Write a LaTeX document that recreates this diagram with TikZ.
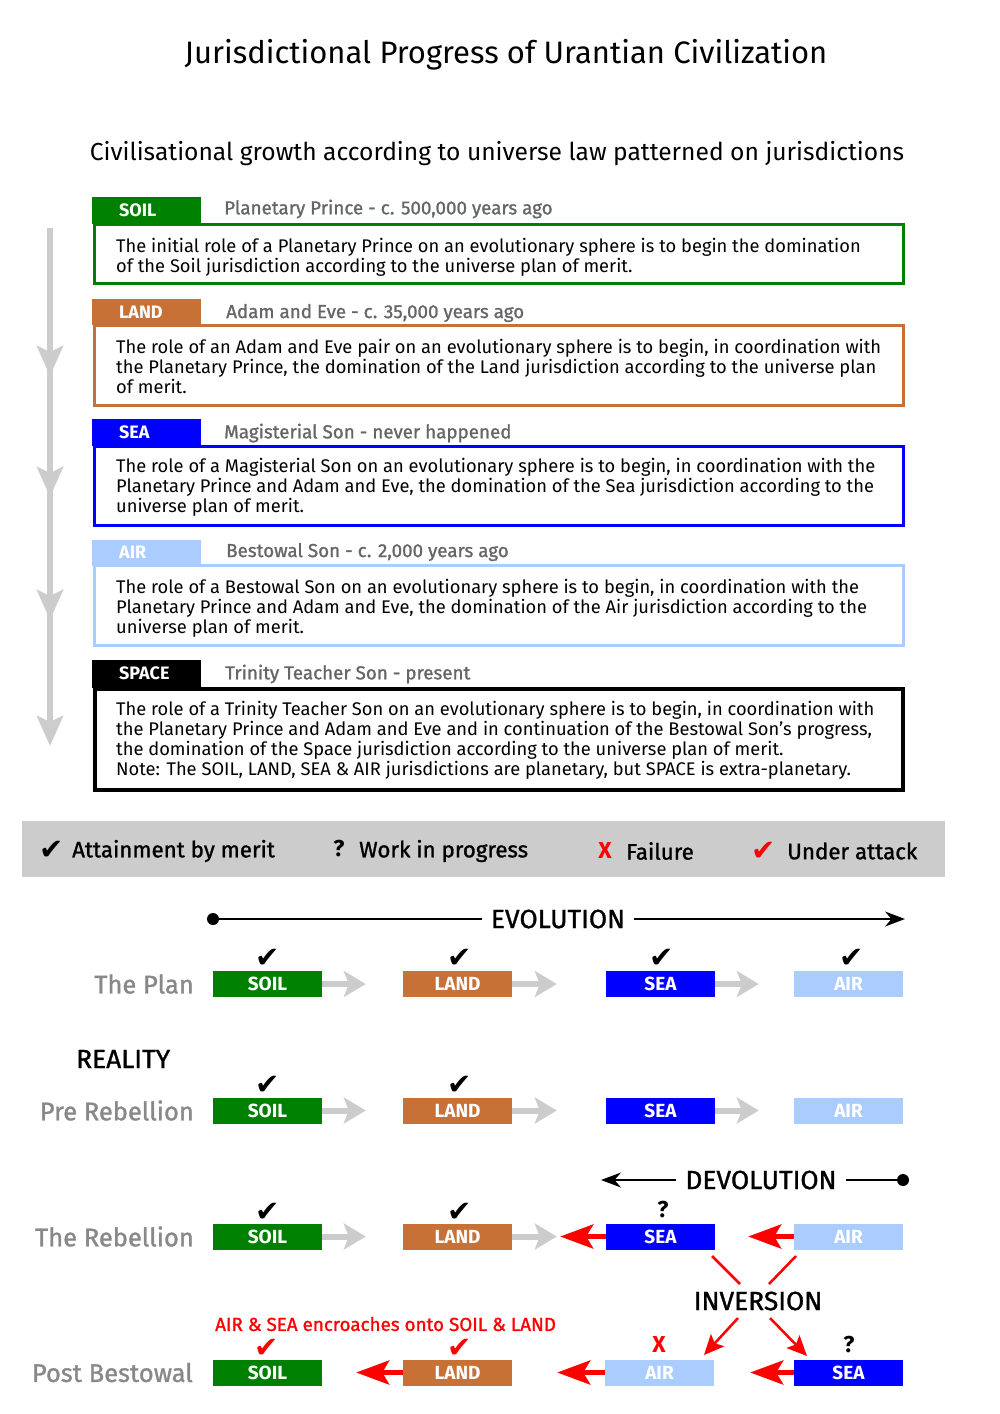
\documentclass[tikz,border=0pt]{standalone}
\usepackage{fontspec}
\setmainfont{Fira Sans}
\newfontfamily\semib{Fira Sans}[FakeBold=1.2]
\newfontfamily\symfont{DejaVu Sans}
\usetikzlibrary{arrows.meta}
\definecolor{soilc}{HTML}{008000}
\definecolor{landc}{HTML}{C87137}
\definecolor{seac}{HTML}{0000FF}
\definecolor{airc}{HTML}{AACCFF}
\definecolor{lgray}{HTML}{CCCCCC}
\definecolor{hdrgray}{HTML}{666666}
\definecolor{lblgray}{HTML}{888888}
\newcommand{\fsz}[1]{\fontsize{#1}{#1}\selectfont}
\begin{document}
\begin{tikzpicture}[x=1pt,y=-1pt,
  tabbox/.style={fill=#1, draw=none, minimum width=109pt, minimum height=27pt, inner sep=0pt, anchor=north west},
  tabtext/.style={text=white, font=\bfseries\fsz{18}, anchor=west, inner sep=0pt},
  hdr/.style={text=hdrgray, font=\semib\fsz{18.8}, anchor=west, inner sep=0pt},
  descbox/.style={draw=#1, line width=3pt, minimum width=809pt, inner sep=0pt},
  desctext/.style={font=\fontsize{18.3}{20}\selectfont, align=left, anchor=west, inner sep=0pt},
  jbox/.style={fill=#1, minimum width=109pt, minimum height=26pt, inner sep=0pt, text=white, font=\bfseries\fsz{19}},
  rowlbl/.style={text=lblgray, font=\semib\fsz{25.5}, anchor=east, inner sep=0pt},
  chk/.style={font=\symfont\fsz{29}, inner sep=0pt},
  qmark/.style={font=\bfseries\fsz{23}, inner sep=0pt},
  grayarr/.style={draw=lgray, line width=6pt, -{Stealth[length=22pt,width=26pt,inset=5pt]}},
  redarr/.style={draw=red, line width=5pt, -{Stealth[length=33pt,width=24pt,inset=7pt]}},
  invarr/.style={draw=red, line width=2.5pt, -{Stealth[length=20pt,width=18pt,inset=4pt]}},
  vgray/.style={draw=lgray, line width=6pt, -{Stealth[length=30pt,width=26pt,inset=6pt]}},
  legtxt/.style={font=\semib\fsz{22.3}, anchor=west, inner sep=0pt},
  bigtxt/.style={font=\semib\fsz{26.3}, inner sep=0pt}
]
\useasboundingbox (0,0) rectangle (1000,1414);

% titles
\node[font=\fsz{31}] (title) at (506,55) {Jurisdictional Progress of Urantian Civilization};
\node[font=\fsz{24.6}] (subtitle) at (497,154) {Civilisational growth according to universe law patterned on jurisdictions};

% vertical gray arrow
\coordinate (v0) at (50,228);
\coordinate (v1) at (50,376);
\coordinate (v1b) at (50,360);
\coordinate (v2) at (50,497);
\coordinate (v2b) at (50,480);
\coordinate (v3) at (50,620);
\coordinate (v3b) at (50,600);
\coordinate (v4) at (50,746);
\draw[vgray] (v0) -- (v1);
\draw[vgray] (v1b) -- (v2);
\draw[vgray] (v2b) -- (v3);
\draw[vgray] (v3b) -- (v4);

% SOIL section
\node[descbox=soilc] (b1) at (499,254) [minimum height=59pt] {};
\node[tabbox=soilc] (t1) at (92,197) {};
\node[tabtext] (t1txt) at (119,210) {SOIL};
\node[hdr] (h1) at (224,209) {Planetary Prince - c. 500,000 years ago};
\node[desctext] (d1) at (116,257) {The initial role of a Planetary Prince on an evolutionary sphere is to begin the domination\\of the Soil jurisdiction according to the universe plan of merit.};

% LAND section
\node[descbox=landc] (b2) at (499,365.5) [minimum height=80pt] {};
\node[tabbox=landc] (t2) at (92,299) [minimum height=26pt] {};
\node[tabtext] (t2txt) at (119,312) {LAND};
\node[hdr] (h2) at (226,313) {Adam and Eve - c. 35,000 years ago};
\node[desctext] (d2) at (116,366) {The role of an Adam and Eve pair on an evolutionary sphere is to begin, in coordination with\\the Planetary Prince, the domination of the Land jurisdiction according to the universe plan\\of merit.};

% SEA section
\node[descbox=seac] (b3) at (499,486) [minimum height=79pt] {};
\node[tabbox=seac] (t3) at (92,419) {};
\node[tabtext] (t3txt) at (119,432) {SEA};
\node[hdr] (h3) at (224,433) {Magisterial Son - never happened};
\node[desctext] (d3) at (116,487) {The role of a Magisterial Son on an evolutionary sphere is to begin, in coordination with the\\Planetary Prince and Adam and Eve, the domination of the Sea jurisdiction according to the\\universe plan of merit.};

% AIR section
\node[descbox=airc] (b4) at (499,605.5) [minimum height=80pt] {};
\node[tabbox=airc] (t4) at (92,540) [minimum height=25.5pt] {};
\node[tabtext] (t4txt) at (119,552) {AIR};
\node[hdr] (h4) at (226,552) {Bestowal Son - c. 2,000 years ago};
\node[desctext] (d4) at (116,608) {The role of a Bestowal Son on an evolutionary sphere is to begin, in coordination with the\\Planetary Prince and Adam and Eve, the domination of the Air jurisdiction according to the\\universe plan of merit.};

% SPACE section
\node[descbox=black, line width=4pt, minimum width=808pt] (b5) at (499,739.5) [minimum height=101pt] {};
\node[tabbox=black] (t5) at (92,660) [minimum height=28pt] {};
\node[tabtext] (t5txt) at (119,673) {SPACE};
\node[hdr] (h5) at (225,674) {Trinity Teacher Son - present};
\node[desctext] (d5) at (116,740) {The role of a Trinity Teacher Son on an evolutionary sphere is to begin, in coordination with\\the Planetary Prince and Adam and Eve and in continuation of the Bestowal Son's progress,\\the domination of the Space jurisdiction according to the universe plan of merit.\\Note: The SOIL, LAND, SEA \& AIR jurisdictions are planetary, but SPACE is extra-planetary.};

% legend bar
\node[fill=lgray, minimum width=923pt, minimum height=56pt, inner sep=0pt, anchor=north west] (legend) at (22,821) {};
\node[chk] (lg1) at (52,850) {✔};
\node[legtxt] (lg1t) at (72,851) {Attainment by merit};
\node[qmark] (lg2) at (339,849) {?};
\node[legtxt] (lg2t) at (359,851) {Work in progress};
\node[qmark, text=red] (lg3) at (605,851) {X};
\node[legtxt] (lg3t) at (626,851) {Failure};
\node[chk, text=red] (lg4) at (764,851) {✔};
\node[legtxt] (lg4t) at (787,851) {Under attack};

% EVOLUTION
\node[bigtxt, inner xsep=9pt] (evo) at (558,919) {EVOLUTION};
\node[circle, fill=black, inner sep=0pt, minimum size=12pt] (evodot) at (213,919) {};
\coordinate (evoend) at (905,919);
\draw[line width=1.5pt] (evodot) -- (evo);
\draw[line width=1.5pt, -{Stealth[length=20pt,width=15pt]}] (evo) -- (evoend);

% The Plan
\node[rowlbl] (lplan) at (194,984) {The Plan};
\node[jbox=soilc] (p1) at (267.5,984) {SOIL};
\node[jbox=landc] (p2) at (457.5,984) {LAND};
\node[jbox=seac] (p3) at (660.5,984) {SEA};
\node[jbox=airc] (p4) at (848.5,984) {AIR};
\node[chk] (pc1) at (268,958) {✔};
\node[chk] (pc2) at (460,958) {✔};
\node[chk] (pc3) at (662,958) {✔};
\node[chk] (pc4) at (852,958) {✔};
\draw[grayarr, shorten >=37pt] (p1) -- (p2);
\draw[grayarr, shorten >=49pt] (p2) -- (p3);
\draw[grayarr, shorten >=35pt] (p3) -- (p4);

% REALITY
\node[bigtxt, anchor=west] (reality) at (76,1059) {REALITY};

% Pre Rebellion
\node[rowlbl] (lpre) at (194,1110.5) {Pre Rebellion};
\node[jbox=soilc] (r1) at (267.5,1110.5) {SOIL};
\node[jbox=landc] (r2) at (457.5,1110.5) {LAND};
\node[jbox=seac] (r3) at (660.5,1110.5) {SEA};
\node[jbox=airc] (r4) at (848.5,1110.5) {AIR};
\node[chk] (rc1) at (268,1085) {✔};
\node[chk] (rc2) at (460,1085) {✔};
\draw[grayarr, shorten >=37pt] (r1) -- (r2);
\draw[grayarr, shorten >=49pt] (r2) -- (r3);
\draw[grayarr, shorten >=35pt] (r3) -- (r4);

% DEVOLUTION
\node[bigtxt, inner xsep=9pt] (devo) at (761,1180) {DEVOLUTION};
\node[circle, fill=black, inner sep=0pt, minimum size=12pt] (devodot) at (903,1180) {};
\coordinate (devoend) at (601,1180);
\draw[line width=1.5pt] (devodot) -- (devo);
\draw[line width=1.5pt, -{Stealth[length=20pt,width=15pt]}] (devo) -- (devoend);

% The Rebellion
\node[rowlbl] (lreb) at (194,1236.5) {The Rebellion};
\node[jbox=soilc] (e1) at (267.5,1236.5) {SOIL};
\node[jbox=landc] (e2) at (457.5,1236.5) {LAND};
\node[jbox=seac] (e3) at (660.5,1236.5) {SEA};
\node[jbox=airc] (e4) at (848.5,1236.5) {AIR};
\node[chk] (ec1) at (268,1212) {✔};
\node[chk] (ec2) at (460,1212) {✔};
\node[qmark] (eq3) at (663,1210) {?};
\draw[grayarr, shorten >=37pt] (e1) -- (e2);
\draw[grayarr, shorten >=49pt] (e2) -- (e3);
\draw[redarr, shorten >=48pt] (e3) -- (e2);
\draw[redarr, shorten >=33pt] (e4) -- (e3);

% INVERSION
\node[bigtxt] (inv) at (758,1301) {INVERSION};
\coordinate (i1a) at (712,1256);
\coordinate (i1b) at (740,1284);
\coordinate (i2a) at (796,1256);
\coordinate (i2b) at (769,1284);
\coordinate (i3a) at (738,1318);
\coordinate (i3b) at (704,1355);
\coordinate (i4a) at (770,1318);
\coordinate (i4b) at (807,1356);
\draw[red, line width=2.5pt] (i1a) -- (i1b);
\draw[red, line width=2.5pt] (i2a) -- (i2b);
\draw[invarr] (i3a) -- (i3b);
\draw[invarr] (i4a) -- (i4b);

% Post Bestowal
\node[rowlbl] (lpost) at (193,1372.5) {Post Bestowal};
\node[jbox=soilc] (s1) at (267.5,1372.5) {SOIL};
\node[jbox=landc] (s2) at (457.5,1372.5) {LAND};
\node[jbox=airc] (s3) at (659.5,1372.5) {AIR};
\node[jbox=seac] (s4) at (848.5,1372.5) {SEA};
\node[font=\semib\fsz{18.8}, text=red, anchor=west, inner sep=0pt] (enc) at (215,1324) {AIR \& SEA encroaches onto SOIL \& LAND};
\node[chk, text=red] (sc1) at (267,1348) {✔};
\node[chk, text=red] (sc2) at (460,1348) {✔};
\node[qmark, text=red] (sx3) at (659,1345) {X};
\node[qmark] (sq4) at (849,1345) {?};
\draw[redarr, shorten >=34pt] (s2) -- (s1);
\draw[redarr, shorten >=45pt] (s3) -- (s2);
\draw[redarr, shorten >=36pt] (s4) -- (s3);
\end{tikzpicture}
\end{document}
